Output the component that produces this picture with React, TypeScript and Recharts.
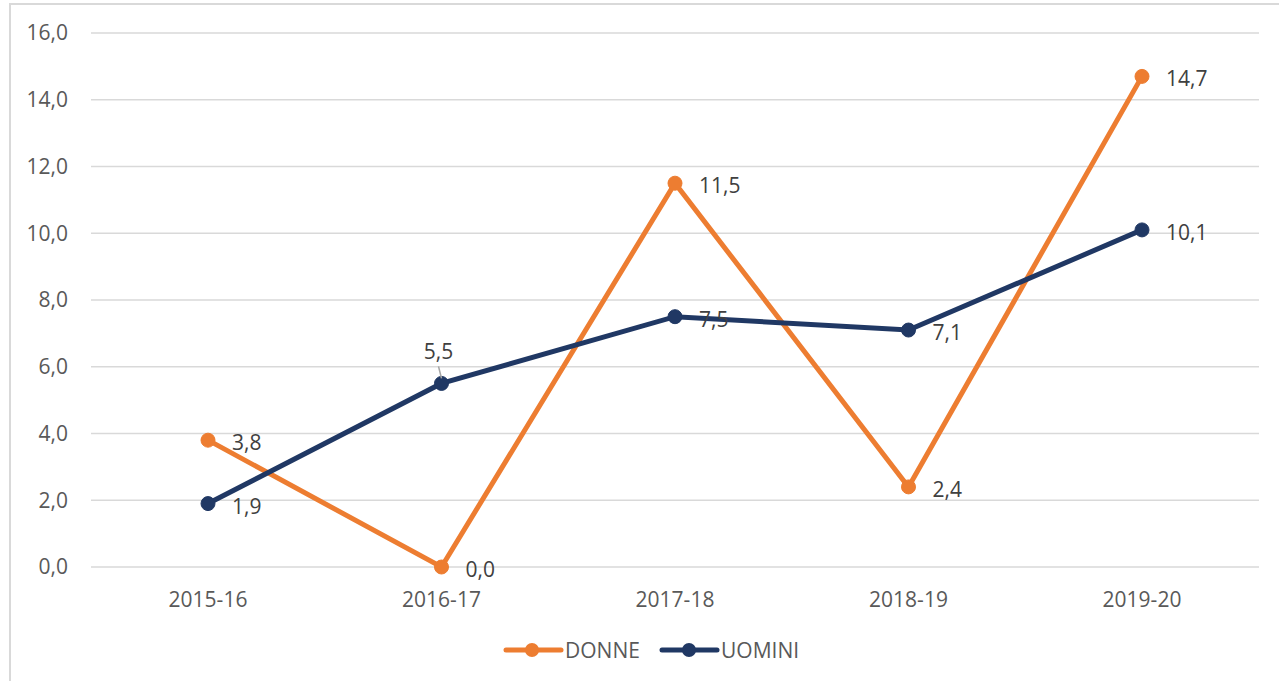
import React from 'react';
import { LineChart, Line, XAxis, YAxis, CartesianGrid, LabelList } from 'recharts';

const anni = ['2015-16', '2016-17', '2017-18', '2018-19', '2019-20'];
const donne = [3.8, 0.0, 11.5, 2.4, 14.7];
const uomini = [1.9, 5.5, 7.5, 7.1, 10.1];
const yTicks = [0, 2, 4, 6, 8, 10, 12, 14, 16];

const data = anni.map((anno, i) => ({ anno, donne: donne[i], uomini: uomini[i] }));

const ARANCIO = '#ED7D31';
const BLU = '#203864';
const FONT = '"Open Sans", sans-serif';

const fmt = (v: number) => v.toFixed(1).replace('.', ',');

// etichetta a destra del punto; per UOMINI 2016-17 sopra con linea guida
const makeLabel = (serie: string) => (props: any) => {
  const { x, y, value, index } = props;
  if (serie === 'uomini' && index === 1) {
    return (
      <g>
        <line x1={x - 3} y1={y - 17} x2={x} y2={y - 5} stroke="#A6A6A6" strokeWidth={1.5} />
        <text x={x - 3} y={y - 32} textAnchor="middle" dominantBaseline="central"
          fill="#404040" fontSize={21} fontFamily={FONT}>
          {fmt(value)}
        </text>
      </g>
    );
  }
  return (
    <text x={x + 24} y={y + 2} textAnchor="start" dominantBaseline="central"
      fill="#404040" fontSize={21} fontFamily={FONT}>
      {fmt(value)}
    </text>
  );
};

const Legenda = () => (
  <svg width={1279} height={40} style={{ position: 'absolute', left: 0, top: 630 }}>
    <line x1={506} y1={20} x2={561} y2={20} stroke={ARANCIO} strokeWidth={5} strokeLinecap="round" />
    <circle cx={532} cy={20} r={7} fill={ARANCIO} />
    <text x={565} y={20} dominantBaseline="central" fill="#595959" fontSize={21} fontFamily={FONT}>DONNE</text>
    <line x1={662} y1={20} x2={717} y2={20} stroke={BLU} strokeWidth={5} strokeLinecap="round" />
    <circle cx={689} cy={20} r={7} fill={BLU} />
    <text x={721} y={20} dominantBaseline="central" fill="#595959" fontSize={21} fontFamily={FONT}>UOMINI</text>
  </svg>
);

export default function App() {
  return (
    <div style={{ position: 'absolute', left: 0, top: 0, width: 1279, height: 681, overflow: 'hidden', background: '#fff' }}>
      <div style={{ position: 'absolute', left: 9, top: 3, width: 1320, height: 720, border: '2px solid #D9D9D9' }} />
      <div style={{ position: 'absolute', left: 0, top: 0 }}>
        <LineChart width={1279} height={681} data={data} margin={{ top: 33, right: 20, bottom: 74, left: 0 }}>
          <CartesianGrid vertical={false} stroke="#D9D9D9" strokeWidth={1.5} />
          <XAxis dataKey="anno" axisLine={false} tickLine={false} height={40} tickMargin={19}
            padding={{ left: 117, right: 117 }}
            tick={{ fill: '#595959', fontSize: 21, fontFamily: FONT }} />
          <YAxis domain={[0, 16]} ticks={yTicks} width={91} axisLine={false} tickLine={false} tickMargin={17}
            tickFormatter={fmt} tick={{ fill: '#595959', fontSize: 21, fontFamily: FONT }} />
          <Line dataKey="donne" stroke={ARANCIO} strokeWidth={5} isAnimationActive={false}
            dot={{ r: 7, fill: ARANCIO, stroke: ARANCIO, strokeWidth: 1 }} activeDot={false}>
            <LabelList dataKey="donne" content={makeLabel('donne')} />
          </Line>
          <Line dataKey="uomini" stroke={BLU} strokeWidth={5} isAnimationActive={false}
            dot={{ r: 7, fill: BLU, stroke: BLU, strokeWidth: 1 }} activeDot={false}>
            <LabelList dataKey="uomini" content={makeLabel('uomini')} />
          </Line>
        </LineChart>
      </div>
      <Legenda />
    </div>
  );
}
